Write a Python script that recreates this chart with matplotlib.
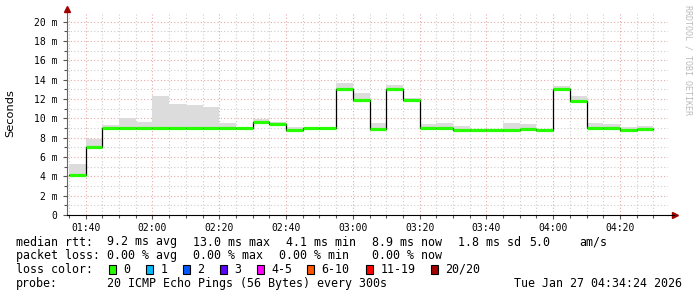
import numpy as np
import matplotlib
matplotlib.use("Agg")
import matplotlib.pyplot as plt
from matplotlib.ticker import MultipleLocator, FuncFormatter

plt.rcParams['font.family'] = ['DejaVu Sans Mono']

# step start times, minutes after midnight (01:35 ... 04:25), 5 min bins
times = np.arange(95, 270, 5)
# median rtt in ms per bin
median = [4.1, 7.0, 9.0, 9.0, 9.0, 9.0, 9.0, 9.0, 9.0, 9.0, 9.0, 9.6, 9.4, 8.8, 9.0, 9.0, 13.0, 11.9,
          8.9, 13.0, 11.9, 9.0, 9.0, 8.8, 8.8, 8.8, 8.8, 8.9, 8.8, 13.0, 11.8, 9.0, 9.0, 8.8, 8.9]
# top of the smoke (slowest pings) in ms
smoke_hi = [5.3, 7.9, 9.3, 10.0, 9.6, 12.3, 11.5, 11.4, 11.2, 9.5, 9.0, 9.9, 9.6, 9.1, 9.0, 9.0, 13.65, 12.6,
            9.5, 13.4, 12.1, 9.4, 9.5, 9.2, 8.9, 8.9, 9.5, 9.4, 8.9, 13.3, 12.3, 9.5, 9.4, 9.1, 9.2]

loss_labels = ["0", "1", "2", "3", "4-5", "6-10", "11-19", "20/20"]
loss_colors = ["#26ff00", "#00b8ff", "#0059ff", "#5e00ff", "#ff00ff", "#ff5500", "#ff0000", "#a10000"]

W, H = 697, 297
fig = plt.figure(figsize=(W / 100, H / 100), dpi=100)
ax = fig.add_axes([67 / W, 1 - 215 / H, (668 - 67) / W, (215 - 13) / H])

t_start, t_end = 94.4, 274.4
ax.set_xlim(t_start, t_end)
ax.set_ylim(0, 20.9)

# grid
for v in np.arange(1, 21, 1):
    c = '#e8a8a8' if v % 2 == 0 else '#cccccc'
    ax.axhline(v, color=c, lw=0.8, ls=(0, (1, 2)), zorder=1)
for m in np.arange(95, 275, 5):
    c = '#e8a8a8' if m % 20 == 0 else '#cccccc'
    ax.axvline(m, color=c, lw=0.8, ls=(0, (1, 2)), zorder=1)

med = np.array(median)
hi = np.array(smoke_hi)
ax.bar(times, hi - med, bottom=med, width=5, align='edge', color='#dcdcdc', lw=0, zorder=2)

# median line: black steps with green (0 loss) segments on top
edges = np.append(times, times[-1] + 5)
ax.step(edges, np.append(med, med[-1]), where='post', color='black', lw=0.9, zorder=3)
ax.hlines(med, times, times + 5, color=loss_colors[0], lw=2.3, zorder=4)

ax.xaxis.set_major_locator(MultipleLocator(20))
ax.xaxis.set_minor_locator(MultipleLocator(5))
ax.xaxis.set_major_formatter(FuncFormatter(lambda x, p: "%02d:%02d" % (int(x) // 60, int(x) % 60)))
ax.yaxis.set_major_locator(MultipleLocator(2))
ax.yaxis.set_minor_locator(MultipleLocator(1))
ax.yaxis.set_major_formatter(FuncFormatter(lambda y, p: "0" if y == 0 else "%d m" % y))
ax.tick_params(axis='both', which='major', labelsize=7, length=3, width=0.8, color='#555555')
ax.tick_params(axis='both', which='minor', length=2, width=0.8, color='#555555')
ax.tick_params(axis='x', pad=3)
ax.tick_params(axis='y', pad=4)

for s in ['top', 'right']:
    ax.spines[s].set_visible(False)
ax.spines['bottom'].set_color('black')
ax.spines['left'].set_color('#666666')
ax.plot([1.012], [0], marker='>', color='#a00000', ms=4, transform=ax.transAxes, clip_on=False)
ax.plot([0], [1.02], marker='^', color='#a00000', ms=4, transform=ax.transAxes, clip_on=False)
ax.plot([1, 1.01], [0, 0], color='black', lw=0.8, transform=ax.transAxes, clip_on=False)

fig.text(10 / W, 1 - 113 / H, "Seconds", rotation=90, ha='center', va='center', fontsize=8.2,
         family='DejaVu Sans')
fig.text(688 / W, 1 - 5 / H, "RRDTOOL / TOBI OETIKER", rotation=270, ha='center', va='top',
         fontsize=6, color='#bbbbbb')

fs = 8.4
def put(x, y, s):
    fig.text(x / W, 1 - y / H, s, ha='left', va='center', fontsize=fs, color='black')

y1, y2, y3, y4 = 242, 255.5, 269.5, 283.5
put(16, y1, "median rtt:")
for x, s in [(107, "9.2 ms avg"), (193, "13.0 ms max"), (286, "4.1 ms min"), (372, "8.9 ms now"),
             (458, "1.8 ms sd"), (529, "5.0"), (579, "am/s")]:
    put(x, y1, s)
put(16, y2, "packet loss:")
for x, s in [(107, "0.00 % avg"), (193, "0.00 % max"), (279, "0.00 % min"), (372, "0.00 % now")]:
    put(x, y2, s)
put(16, y3, "loss color:")
box_x = [109, 146, 183, 220, 257, 307, 366, 431]
for bx, lab, col in zip(box_x, loss_labels, loss_colors):
    fig.patches.append(plt.Rectangle((bx / W, 1 - (y3 + 4.5) / H), 7 / W, 9 / H, transform=fig.transFigure,
                                     facecolor=col, edgecolor='black', lw=0.8))
    put(bx + 14.5, y3, lab)
put(16, y4, "probe:")
put(107, y4, "20 ICMP Echo Pings (56 Bytes) every 300s")
put(514, y4, "Tue Jan 27 04:34:24 2026")

fig.savefig("out.png", dpi=100)
